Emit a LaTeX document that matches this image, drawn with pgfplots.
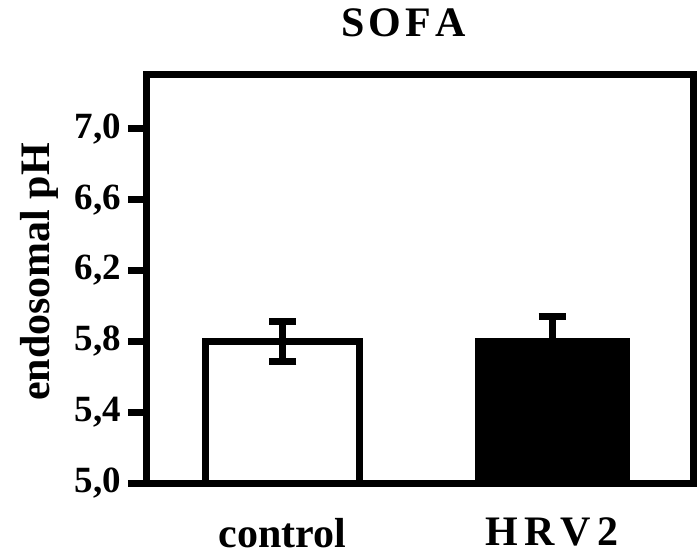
\documentclass[border=0pt]{standalone}
\usepackage{pgfplots}
\pgfplotsset{compat=1.18}
\usepackage{fontspec}
\setmainfont{Liberation Serif}
\begin{document}
\begin{tikzpicture}
\useasboundingbox (-73pt,-37.5pt) rectangle (277pt,241.5pt);
\begin{axis}[
  at={(0,0)}, anchor=south west,
  scale only axis, width=273.5pt, height=204pt,
  xmin=0, xmax=4, ymin=5, ymax=7.305,
  axis line style={line width=3.5pt, black},
  ytick={5.0,5.4,5.8,6.2,6.6,7.0},
  xtick={1,2.97}, xticklabels={control, H\kern3pt R\kern3pt V\kern3pt 2},
  ytick pos=left, xtick pos=bottom,
  tick align=outside,
  major tick length=9pt,
  ytick style={line width=3.5pt, black},
  xtick style={draw=none},
  yticklabel style={font=\fontsize{18.5}{20}\selectfont\bfseries, /pgf/number format/.cd, fixed, fixed zerofill, precision=1, use comma, assume math mode=true},
  xticklabel style={font=\fontsize{21}{24}\selectfont\bfseries, yshift=-5pt},
  ybar=0pt, bar width=77pt, bar shift=0pt,
  clip=true,
]
\addplot[fill=white, draw=black, line width=3.5pt,
  error bars/.cd, y dir=both, y explicit, error mark=|,
  error bar style={line width=3.5pt, black},
  error mark options={line width=3.5pt, mark size=6.75pt, black, solid}]
  coordinates {(1,5.80) +- (0,0.115)};
\addplot[fill=black, draw=black, line width=0pt,
  error bars/.cd, y dir=both, y explicit, error mark=|,
  error bar style={line width=3.5pt, black},
  error mark options={line width=3.5pt, mark size=6.75pt, black, solid}]
  coordinates {(2.97,5.815) +- (0,0.125)};
\end{axis}
\node[anchor=base, font=\fontsize{21}{24}\selectfont\bfseries] at (128.75pt,223pt) {S\kern2pt O\kern2pt F\kern2pt A};
\node[rotate=90, anchor=base, font=\fontsize{21}{24}\selectfont\bfseries] at (-48pt,105.5pt) {endosomal pH};
\end{tikzpicture}
\end{document}
